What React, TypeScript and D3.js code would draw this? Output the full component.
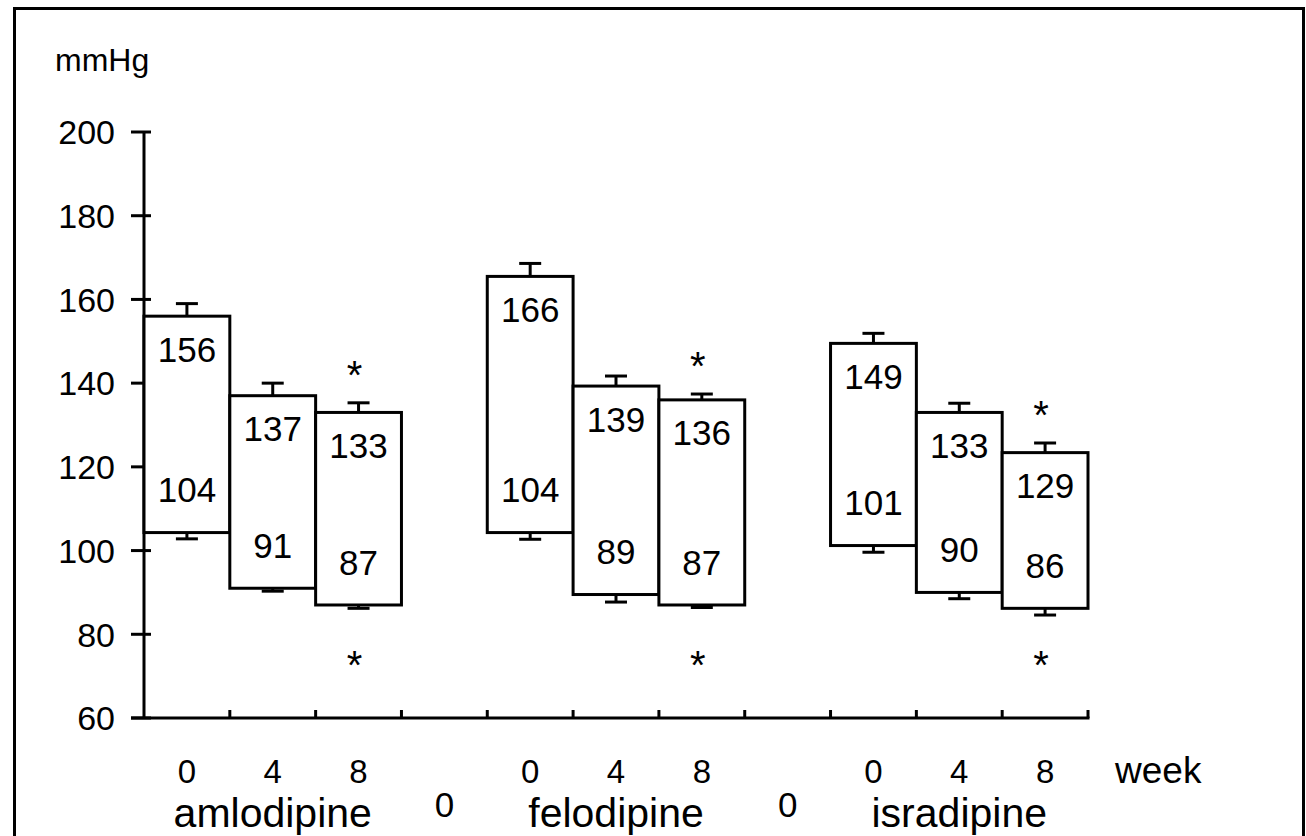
import * as d3 from 'd3';

const bands = ['a0', 'a4', 'a8', 'gap1', 'f0', 'f4', 'f8', 'gap2', 'i0', 'i4', 'i8'];
const bandLabels = ['0', '4', '8', '0', '0', '4', '8', '0', '0', '4', '8'];
const gapBands = ['gap1', 'gap2'];
const drugs = ['amlodipine', 'felodipine', 'isradipine'];
const drugCenterBand = ['a4', 'f4', 'i4'];

const boxBands = ['a0', 'a4', 'a8', 'f0', 'f4', 'f8', 'i0', 'i4', 'i8'];
const systolic = [156, 137, 133, 165.5, 139.3, 136, 149.5, 133, 123.4];
const diastolic = [104.3, 91, 87, 104.3, 89.5, 87, 101.2, 90, 86.2];
const sysErr = [3, 3, 2.3, 3.1, 2.4, 1.4, 2.4, 2.2, 2.3];
const diaErr = [1.5, 0.7, 0.8, 1.6, 1.8, 0.6, 1.6, 1.5, 1.6];
const sysLabels = ['156', '137', '133', '166', '139', '136', '149', '133', '129'];
const diaLabels = ['104', '91', '87', '104', '89', '87', '101', '90', '86'];
const significant = [false, false, true, false, false, true, false, false, true];

const yTicks = [60, 80, 100, 120, 140, 160, 180, 200];

const FONT = '"Liberation Sans", Arial, sans-serif';

export default function App() {
  const width = 1306;
  const height = 836;

  const x = d3.scaleBand<string>().domain(bands).range([144, 1088]).padding(0);
  const y = d3.scaleLinear().domain([60, 200]).range([718, 132]);
  const bw = x.bandwidth();
  const cx = (b: string) => (x(b) as number) + bw / 2;
  const bottomStarY = 656;
  // asterisk glyph centre sits about 0.585em above the baseline
  const starSize = 40;
  const starShift = starSize * 0.585;

  return (
    <div style={{ position: 'absolute', left: 0, top: 0 }}>
      <svg width={width} height={height} style={{ display: 'block', background: '#fff' }} fontFamily={FONT}>
        {/* outer frame */}
        <rect x={14.5} y={8.5} width={1289} height={900} fill="none" stroke="#000" strokeWidth={3} />

        <text x={55} y={71} fontSize={32} fill="#000">mmHg</text>

        {/* y axis */}
        <line x1={144} x2={144} y1={y(200)} y2={y(60)} stroke="#000" strokeWidth={3} />
        {yTicks.map(t => (
          <g key={t}>
            <line x1={131} x2={151} y1={y(t)} y2={y(t)} stroke="#000" strokeWidth={3} />
            <text x={115} y={y(t)} dy="0.36em" textAnchor="end" fontSize={34} fill="#000">{t}</text>
          </g>
        ))}

        {/* x axis */}
        <line x1={131} x2={1089.5} y1={y(60)} y2={y(60)} stroke="#000" strokeWidth={3} />
        {bands.map(b => (
          <line key={b} x1={(x(b) as number) + bw} x2={(x(b) as number) + bw} y1={y(60) - 8} y2={y(60)} stroke="#000" strokeWidth={3} />
        ))}

        {/* boxes */}
        {boxBands.map((b, i) => {
          const x0 = x(b) as number;
          const c = x0 + bw / 2;
          const top = y(systolic[i]);
          const bot = y(diastolic[i]);
          const capTop = y(systolic[i] + sysErr[i]);
          const capBot = y(diastolic[i] - diaErr[i]);
          return (
            <g key={b}>
              <line x1={c} x2={c} y1={capTop} y2={top} stroke="#000" strokeWidth={3} />
              <line x1={c - 11} x2={c + 11} y1={capTop} y2={capTop} stroke="#000" strokeWidth={3} />
              <line x1={c} x2={c} y1={bot} y2={capBot} stroke="#000" strokeWidth={3} />
              <line x1={c - 11} x2={c + 11} y1={capBot} y2={capBot} stroke="#000" strokeWidth={3} />
              <rect x={x0} y={top} width={bw} height={bot - top} fill="#fff" stroke="#000" strokeWidth={3} />
              <text x={c} y={top + 33} dy="0.36em" textAnchor="middle" fontSize={35} fill="#000">{sysLabels[i]}</text>
              <text x={c} y={bot - 43} dy="0.36em" textAnchor="middle" fontSize={35} fill="#000">{diaLabels[i]}</text>
              {significant[i] && (
                <>
                  <text x={c - 4} y={capTop - 37 + starShift} textAnchor="middle" fontSize={starSize} fill="#000">*</text>
                  <text x={c - 4} y={bottomStarY + starShift} textAnchor="middle" fontSize={starSize} fill="#000">*</text>
                </>
              )}
            </g>
          );
        })}

        {/* category labels */}
        {bands.map((b, i) =>
          gapBands.includes(b) ? (
            <text key={b} x={cx(b)} y={817} textAnchor="middle" fontSize={35} fill="#000">{bandLabels[i]}</text>
          ) : (
            <text key={b} x={cx(b)} y={783} textAnchor="middle" fontSize={33} fill="#000">{bandLabels[i]}</text>
          )
        )}
        <text x={1115} y={783} fontSize={37} fill="#000">week</text>

        {drugs.map((d, i) => (
          <text key={d} x={cx(drugCenterBand[i])} y={827} textAnchor="middle" fontSize={41} fill="#000">{d}</text>
        ))}
      </svg>
    </div>
  );
}
